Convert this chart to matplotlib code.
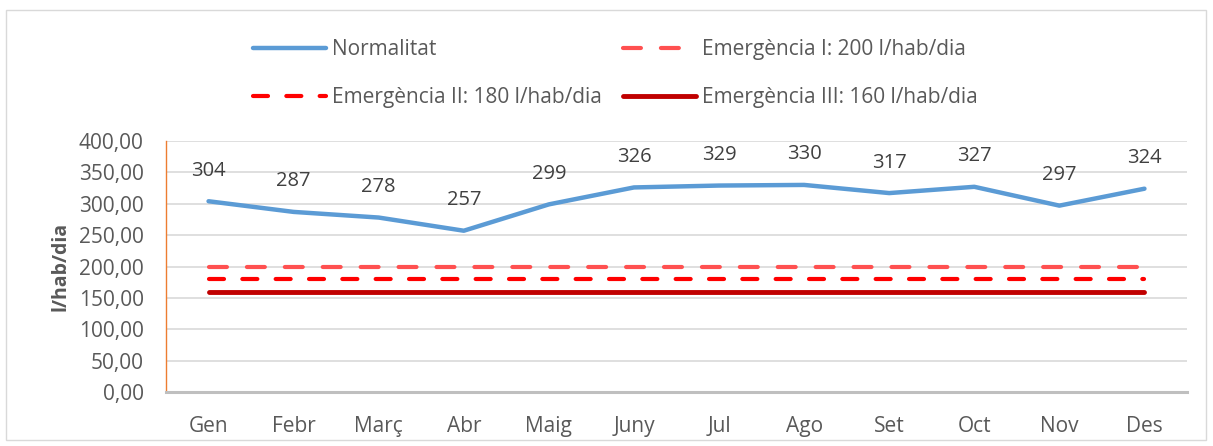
import numpy as np
import matplotlib.pyplot as plt
from matplotlib.patches import Rectangle

mesos = ['Gen', 'Febr', 'Març', 'Abr', 'Maig', 'Juny', 'Jul', 'Ago', 'Set', 'Oct', 'Nov', 'Des']
normalitat = [304, 287, 278, 257, 299, 326, 329, 330, 317, 327, 297, 324]
emerg1 = [200] * 12
emerg2 = [180] * 12
emerg3 = [160] * 12
yticks = [0, 50, 100, 150, 200, 250, 300, 350, 400]

plt.rcParams['font.family'] = ['Open Sans', 'DejaVu Sans']
txt = '#595959'

fig = plt.figure(figsize=(12.13, 4.46), dpi=100)
ax = fig.add_axes([166/1213, 1 - 392/446, (1187-166)/1213, (392-141)/446])

x = np.arange(len(mesos))
l0, = ax.plot(x, normalitat, color='#5B9BD5', lw=3.2, solid_capstyle='round', label='Normalitat')
l1, = ax.plot(x, emerg1, color='#FF5050', lw=3.0, dashes=(4.3, 4.8), dash_capstyle='round', label='Emergència I: 200 l/hab/dia')
l2, = ax.plot(x, emerg2, color='#FF0000', lw=3.0, dashes=(3.6, 4.4), dash_capstyle='round', label='Emergència II: 180 l/hab/dia')
l3, = ax.plot(x, emerg3, color='#C00000', lw=3.5, solid_capstyle='round', label='Emergència III: 160 l/hab/dia')

for i, v in enumerate(normalitat):
    ax.annotate(str(v), (i, v), xytext=(0, 22), textcoords='offset points',
                ha='center', va='center', fontsize=14.5, color='#404040')

ax.set_xlim(-0.5, 11.5)
ax.set_ylim(0, 400)
ax.set_yticks(yticks)
ax.set_yticklabels(['%d,00' % t for t in yticks])
ax.set_xticks(x)
ax.set_xticklabels(mesos)
ax.tick_params(axis='both', length=0, labelsize=15, colors=txt)
ax.tick_params(axis='x', pad=17)
ax.tick_params(axis='y', pad=16)
ax.grid(axis='y', color='#D9D9D9', lw=1.2)
ax.set_axisbelow(True)
for s in ['top', 'right']:
    ax.spines[s].set_visible(False)
ax.spines['left'].set_color('#ED7D31')
ax.spines['left'].set_linewidth(1)
ax.spines['bottom'].set_color('#BFBFBF')
ax.spines['bottom'].set_linewidth(2.2)
ax.set_ylabel('l/hab/dia', fontsize=14, fontweight='bold', color=txt, labelpad=6)

fig.legend(handles=[l0, l2, l1, l3], loc='upper left', bbox_to_anchor=(253/1213, 1 - 39/446),
           ncol=2, frameon=False, fontsize=15, labelcolor=txt, handlelength=3.5, borderpad=0,
           borderaxespad=0, handletextpad=0.3, columnspacing=1.0, labelspacing=1.3)

fig.patches.append(Rectangle((6/1213, 6/446), 1200/1213, 1 - 16/446, transform=fig.transFigure,
                             fill=False, edgecolor='#D9D9D9', lw=1))

fig.savefig('out.png', dpi=100)
